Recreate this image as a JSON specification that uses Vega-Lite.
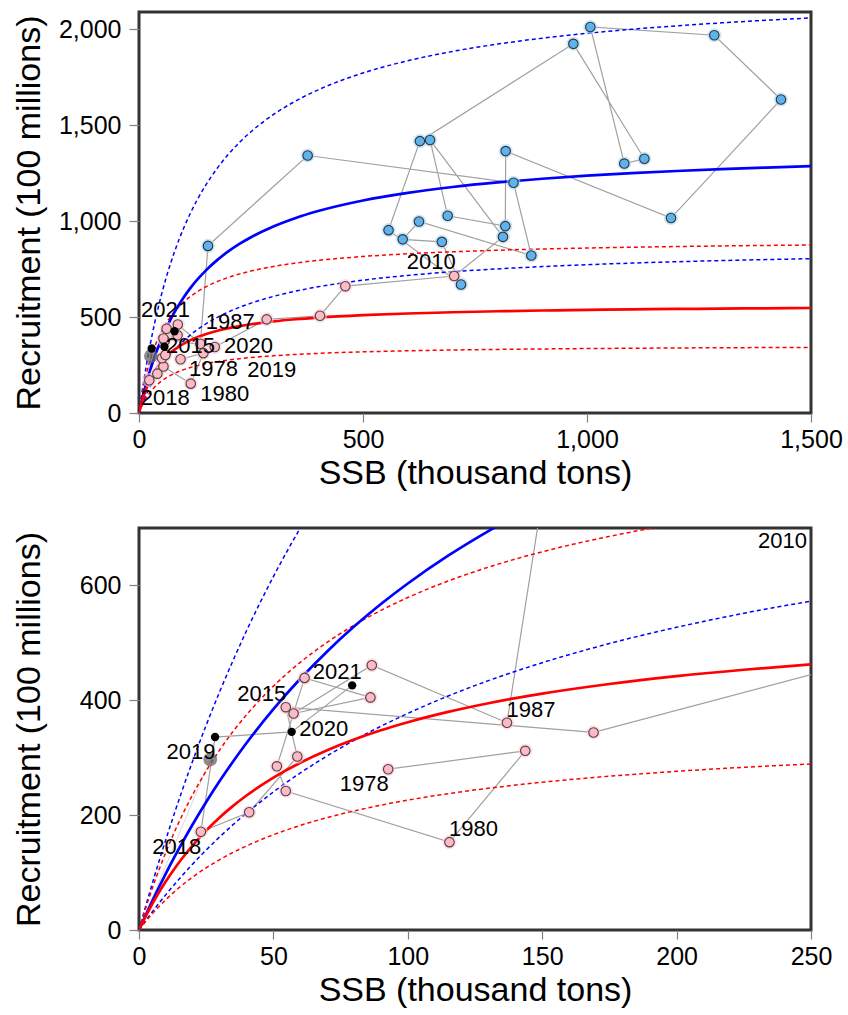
{
  "$schema": "https://vega.github.io/schema/vega-lite/v6.json",
  "padding": {"left": 10, "top": 10, "right": 5, "bottom": 5},
  "spacing": 34,
  "config": {
    "font": "Liberation Sans",
    "view": {"stroke": "#333333", "strokeWidth": 3},
    "axis": {"grid": false, "domain": false, "tickColor": "#808080", "tickWidth": 1.2, "labelFontSize": 25, "titleFontSize": 34, "titleFontWeight": "normal", "labelColor": "#000000", "titleColor": "#000000", "labelFlush": false, "labelOverlap": false},
    "axisX": {"tickSize": 9, "labelPadding": 5, "titlePadding": 4},
    "axisY": {"tickSize": 10, "labelPadding": 8, "titlePadding": 9, "minExtent": 84}
  },
  "datasets": {
    "obs": [
      {"year": 1978, "ssb": 92.7, "rec": 280, "grp": "low"},
      {"year": 1979, "ssb": 143.7, "rec": 312, "grp": "low"},
      {"year": 1980, "ssb": 115.5, "rec": 153, "grp": "low"},
      {"year": 1981, "ssb": 54.6, "rec": 242, "grp": "low"},
      {"year": 1982, "ssb": 51.3, "rec": 285, "grp": "low"},
      {"year": 1983, "ssb": 61.6, "rec": 439, "grp": "low"},
      {"year": 1984, "ssb": 86.1, "rec": 405, "grp": "low"},
      {"year": 1985, "ssb": 57.5, "rec": 377, "grp": "low"},
      {"year": 1986, "ssb": 86.6, "rec": 461, "grp": "low"},
      {"year": 1987, "ssb": 136.9, "rec": 361, "grp": "low"},
      {"year": 1988, "ssb": 154, "rec": 871, "grp": "high"},
      {"year": 1989, "ssb": 376.5, "rec": 1342, "grp": "high"},
      {"year": 1990, "ssb": 836, "rec": 1200, "grp": "high"},
      {"year": 1991, "ssb": 875.7, "rec": 821, "grp": "high"},
      {"year": 1992, "ssb": 625, "rec": 998, "grp": "high"},
      {"year": 1993, "ssb": 588.6, "rec": 905, "grp": "high"},
      {"year": 1994, "ssb": 676, "rec": 892, "grp": "high"},
      {"year": 1995, "ssb": 718.8, "rec": 670, "grp": "high"},
      {"year": 1996, "ssb": 557, "rec": 953, "grp": "high"},
      {"year": 1997, "ssb": 627, "rec": 1417, "grp": "high"},
      {"year": 1998, "ssb": 969.5, "rec": 1924, "grp": "high"},
      {"year": 1999, "ssb": 1128, "rec": 1325, "grp": "high"},
      {"year": 2000, "ssb": 1083.3, "rec": 1300, "grp": "high"},
      {"year": 2001, "ssb": 1007.4, "rec": 2012, "grp": "high"},
      {"year": 2002, "ssb": 1284.2, "rec": 1969, "grp": "high"},
      {"year": 2003, "ssb": 1433, "rec": 1634, "grp": "high"},
      {"year": 2004, "ssb": 1187.5, "rec": 1016, "grp": "high"},
      {"year": 2005, "ssb": 818.5, "rec": 1365, "grp": "high"},
      {"year": 2006, "ssb": 817.7, "rec": 974, "grp": "high"},
      {"year": 2007, "ssb": 689, "rec": 1028, "grp": "high"},
      {"year": 2008, "ssb": 649.6, "rec": 1423, "grp": "high"},
      {"year": 2009, "ssb": 812.5, "rec": 918, "grp": "high"},
      {"year": 2010, "ssb": 703.5, "rec": 714, "grp": "low"},
      {"year": 2011, "ssb": 460.5, "rec": 661, "grp": "low"},
      {"year": 2012, "ssb": 404, "rec": 507, "grp": "low"},
      {"year": 2013, "ssb": 285, "rec": 488, "grp": "low"},
      {"year": 2014, "ssb": 169.1, "rec": 344, "grp": "low"},
      {"year": 2015, "ssb": 54.6, "rec": 388, "grp": "low"},
      {"year": 2016, "ssb": 58.9, "rec": 302, "grp": "low"},
      {"year": 2017, "ssb": 41, "rec": 205, "grp": "low"},
      {"year": 2018, "ssb": 23, "rec": 171, "grp": "low"},
      {"year": 2019, "ssb": 28.3, "rec": 336, "grp": "recent"},
      {"year": 2020, "ssb": 56.8, "rec": 345, "grp": "recent"},
      {"year": 2021, "ssb": 79.3, "rec": 426, "grp": "recent"}
    ],
    "ref": [
      {"ssb": 0, "rec": 0},
      {"ssb": 26.5, "rec": 297}
    ],
    "curves": [
      {"ssb": 0, "bs": 0, "bu": 0, "bl": 0, "rs": 0, "ru": 0, "rl": 0},
      {"ssb": 1, "bs": 10.5, "bu": 16.8, "bl": 6.6, "rs": 9.8, "ru": 15.7, "rl": 6.1},
      {"ssb": 2, "bs": 20.9, "bu": 33.4, "bl": 13.1, "rs": 19.3, "ru": 30.8, "rl": 12.0},
      {"ssb": 4, "bs": 41.2, "bu": 65.9, "bl": 25.7, "rs": 37.2, "ru": 59.6, "rl": 23.3},
      {"ssb": 6, "bs": 60.9, "bu": 97.4, "bl": 38.0, "rs": 54.1, "ru": 86.6, "rl": 33.8},
      {"ssb": 8, "bs": 80.0, "bu": 128.0, "bl": 50.0, "rs": 69.9, "ru": 111.8, "rl": 43.7},
      {"ssb": 10, "bs": 98.6, "bu": 157.7, "bl": 61.6, "rs": 84.8, "ru": 135.6, "rl": 53.0},
      {"ssb": 13, "bs": 125.5, "bu": 200.8, "bl": 78.4, "rs": 105.5, "ru": 168.8, "rl": 65.9},
      {"ssb": 16, "bs": 151.4, "bu": 242.2, "bl": 94.6, "rs": 124.5, "ru": 199.2, "rl": 77.8},
      {"ssb": 20, "bs": 184.2, "bu": 294.7, "bl": 115.1, "rs": 147.5, "ru": 236.0, "rl": 92.2},
      {"ssb": 25, "bs": 222.9, "bu": 356.6, "bl": 139.3, "rs": 173.2, "ru": 277.1, "rl": 108.3},
      {"ssb": 30, "bs": 259.3, "bu": 414.9, "bl": 162.1, "rs": 195.9, "ru": 313.4, "rl": 122.4},
      {"ssb": 35, "bs": 293.4, "bu": 469.4, "bl": 183.4, "rs": 216.1, "ru": 345.8, "rl": 135.1},
      {"ssb": 40, "bs": 325.6, "bu": 521.0, "bl": 203.5, "rs": 234.2, "ru": 374.7, "rl": 146.4},
      {"ssb": 50, "bs": 384.6, "bu": 615.4, "bl": 240.4, "rs": 265.4, "ru": 424.6, "rl": 165.9},
      {"ssb": 60, "bs": 437.5, "bu": 700.0, "bl": 273.4, "rs": 291.3, "ru": 466.1, "rl": 182.1},
      {"ssb": 70, "bs": 485.1, "bu": 776.2, "bl": 303.2, "rs": 313.1, "ru": 501.0, "rl": 195.7},
      {"ssb": 80, "bs": 528.3, "bu": 845.3, "bl": 330.2, "rs": 331.7, "ru": 530.7, "rl": 207.3},
      {"ssb": 90, "bs": 567.6, "bu": 908.2, "bl": 354.8, "rs": 347.8, "ru": 556.5, "rl": 217.4},
      {"ssb": 100, "bs": 603.4, "bu": 965.4, "bl": 377.1, "rs": 361.8, "ru": 578.9, "rl": 226.1},
      {"ssb": 115, "bs": 651.8, "bu": 1042.9, "bl": 407.4, "rs": 379.8, "ru": 607.7, "rl": 237.4},
      {"ssb": 130, "bs": 694.7, "bu": 1111.5, "bl": 434.2, "rs": 394.9, "ru": 631.8, "rl": 246.8},
      {"ssb": 150, "bs": 744.7, "bu": 1191.5, "bl": 465.4, "rs": 411.6, "ru": 658.6, "rl": 257.3},
      {"ssb": 175, "bs": 798.0, "bu": 1276.8, "bl": 498.8, "rs": 428.4, "ru": 685.4, "rl": 267.8},
      {"ssb": 200, "bs": 843.4, "bu": 1349.4, "bl": 527.1, "rs": 442.0, "ru": 707.2, "rl": 276.3},
      {"ssb": 225, "bs": 882.4, "bu": 1411.8, "bl": 551.5, "rs": 453.2, "ru": 725.1, "rl": 283.3},
      {"ssb": 250, "bs": 916.2, "bu": 1465.9, "bl": 572.6, "rs": 462.5, "ru": 740.0, "rl": 289.1},
      {"ssb": 300, "bs": 972.2, "bu": 1555.5, "bl": 607.6, "rs": 477.3, "ru": 763.7, "rl": 298.3},
      {"ssb": 350, "bs": 1016.6, "bu": 1626.6, "bl": 635.4, "rs": 488.5, "ru": 781.6, "rl": 305.3},
      {"ssb": 400, "bs": 1052.6, "bu": 1684.2, "bl": 657.9, "rs": 497.2, "ru": 795.5, "rl": 310.8},
      {"ssb": 500, "bs": 1107.6, "bu": 1772.2, "bl": 692.3, "rs": 509.9, "ru": 815.8, "rl": 318.7},
      {"ssb": 600, "bs": 1147.5, "bu": 1836.0, "bl": 717.2, "rs": 518.7, "ru": 829.9, "rl": 324.2},
      {"ssb": 700, "bs": 1177.9, "bu": 1884.6, "bl": 736.2, "rs": 525.2, "ru": 840.3, "rl": 328.3},
      {"ssb": 800, "bs": 1201.7, "bu": 1922.7, "bl": 751.1, "rs": 530.2, "ru": 848.3, "rl": 331.4},
      {"ssb": 900, "bs": 1220.9, "bu": 1953.4, "bl": 763.1, "rs": 534.2, "ru": 854.7, "rl": 333.9},
      {"ssb": 1000, "bs": 1236.7, "bu": 1978.7, "bl": 772.9, "rs": 537.4, "ru": 859.8, "rl": 335.9},
      {"ssb": 1100, "bs": 1250.0, "bu": 2000.0, "bl": 781.3, "rs": 540.0, "ru": 864.0, "rl": 337.5},
      {"ssb": 1200, "bs": 1261.3, "bu": 2018.1, "bl": 788.3, "rs": 542.2, "ru": 867.5, "rl": 338.9},
      {"ssb": 1300, "bs": 1270.9, "bu": 2033.4, "bl": 794.3, "rs": 544.1, "ru": 870.6, "rl": 340.1},
      {"ssb": 1400, "bs": 1279.4, "bu": 2047.0, "bl": 799.6, "rs": 545.8, "ru": 873.3, "rl": 341.1},
      {"ssb": 1500, "bs": 1286.8, "bu": 2058.9, "bl": 804.3, "rs": 547.2, "ru": 875.5, "rl": 342.0}
    ]
  },
  "vconcat": [
    {
      "width": 672,
      "height": 401,
      "encoding": {
        "x": {"field": "ssb", "type": "quantitative", "scale": {"domain": [0, 1500], "nice": false}, "axis": {"values": [0, 500, 1000, 1500], "format": ",.0f", "title": "SSB (thousand tons)"}},
        "y": {"field": "rec", "type": "quantitative", "scale": {"domain": [0, 2090], "nice": false}, "axis": {"values": [0, 500, 1000, 1500, 2000], "format": ",.0f", "title": "Recruitment (100 millions)"}}
      },
      "layer": [
        {"data": {"name": "ref"}, "mark": {"type": "line", "color": "#cfcfcf", "strokeWidth": 0.8, "clip": true}},
        {"data": {"name": "obs"}, "mark": {"type": "line", "color": "#a0a0a0", "strokeWidth": 1.2, "clip": true}, "encoding": {"order": {"field": "year", "type": "quantitative"}}},
        {"data": {"name": "curves"}, "transform": [{"fold": ["bu", "bl"], "as": ["curve", "rec"]}], "mark": {"type": "line", "color": "#0000ff", "strokeWidth": 1.5, "strokeDash": [4, 3], "interpolate": "monotone", "clip": true}, "encoding": {"detail": {"field": "curve", "type": "nominal"}}},
        {"data": {"name": "curves"}, "transform": [{"fold": ["ru", "rl"], "as": ["curve", "rec"]}], "mark": {"type": "line", "color": "#ff0000", "strokeWidth": 1.5, "strokeDash": [4, 3], "interpolate": "monotone", "clip": true}, "encoding": {"detail": {"field": "curve", "type": "nominal"}}},
        {"data": {"name": "curves"}, "transform": [{"fold": ["bs"], "as": ["curve", "rec"]}], "mark": {"type": "line", "color": "#0000ff", "strokeWidth": 2.7, "interpolate": "monotone", "clip": true}},
        {"data": {"name": "curves"}, "transform": [{"fold": ["rs"], "as": ["curve", "rec"]}], "mark": {"type": "line", "color": "#ff0000", "strokeWidth": 2.7, "interpolate": "monotone", "clip": true}},
        {"data": {"name": "obs"}, "transform": [{"filter": "datum.grp == 'high'"}], "mark": {"type": "circle", "size": 200, "color": "#a9d7f6", "opacity": 0.6, "clip": true}},
        {"data": {"name": "obs"}, "transform": [{"filter": "datum.grp == 'low'"}], "mark": {"type": "circle", "size": 200, "color": "#ffc9d4", "opacity": 0.6, "clip": true}},
        {"data": {"name": "obs"}, "transform": [{"filter": "datum.grp == 'high'"}], "mark": {"type": "circle", "size": 90, "fill": "#5eb3ee", "fillOpacity": 1, "stroke": "#333333", "strokeWidth": 1.1, "clip": true}},
        {"data": {"name": "obs"}, "transform": [{"filter": "datum.grp == 'low'"}], "mark": {"type": "circle", "size": 90, "fill": "#ffb8c6", "fillOpacity": 1, "stroke": "#444444", "strokeWidth": 1.1, "clip": true}},
        {"data": {"name": "ref"}, "transform": [{"filter": "datum.ssb > 0"}], "mark": {"type": "circle", "size": 190, "color": "#666666", "opacity": 0.75, "clip": true}},
        {"data": {"name": "obs"}, "transform": [{"filter": "datum.grp == 'recent'"}], "mark": {"type": "circle", "size": 70, "color": "#000000", "opacity": 1, "clip": true}},
        {"data": {"name": "obs"}, "transform": [{"filter": "datum.year == 2021"}], "mark": {"type": "text", "fontSize": 22, "dx": -9, "dy": -21}, "encoding": {"text": {"field": "year", "type": "nominal"}}},
        {"data": {"name": "obs"}, "transform": [{"filter": "datum.year == 1987"}], "mark": {"type": "text", "fontSize": 22, "dx": 30, "dy": -22}, "encoding": {"text": {"field": "year", "type": "nominal"}}},
        {"data": {"name": "obs"}, "transform": [{"filter": "datum.year == 2015"}], "mark": {"type": "text", "fontSize": 22, "dx": 27, "dy": 7}, "encoding": {"text": {"field": "year", "type": "nominal"}}},
        {"data": {"name": "obs"}, "transform": [{"filter": "datum.year == 2020"}], "mark": {"type": "text", "fontSize": 22, "dx": 84, "dy": -1}, "encoding": {"text": {"field": "year", "type": "nominal"}}},
        {"data": {"name": "obs"}, "transform": [{"filter": "datum.year == 1978"}], "mark": {"type": "text", "fontSize": 22, "dx": 33, "dy": 10}, "encoding": {"text": {"field": "year", "type": "nominal"}}},
        {"data": {"name": "obs"}, "transform": [{"filter": "datum.year == 2019"}], "mark": {"type": "text", "fontSize": 22, "dx": 120, "dy": 21}, "encoding": {"text": {"field": "year", "type": "nominal"}}},
        {"data": {"name": "obs"}, "transform": [{"filter": "datum.year == 1980"}], "mark": {"type": "text", "fontSize": 22, "dx": 34, "dy": 10}, "encoding": {"text": {"field": "year", "type": "nominal"}}},
        {"data": {"name": "obs"}, "transform": [{"filter": "datum.year == 2018"}], "mark": {"type": "text", "fontSize": 22, "dx": 16, "dy": 18}, "encoding": {"text": {"field": "year", "type": "nominal"}}},
        {"data": {"name": "obs"}, "transform": [{"filter": "datum.year == 2010"}], "mark": {"type": "text", "fontSize": 22, "dx": -23, "dy": -14}, "encoding": {"text": {"field": "year", "type": "nominal"}}}
      ]
    },
    {
      "width": 672,
      "height": 402,
      "encoding": {
        "x": {"field": "ssb", "type": "quantitative", "scale": {"domain": [0, 250], "nice": false}, "axis": {"values": [0, 50, 100, 150, 200, 250], "format": ",.0f", "title": "SSB (thousand tons)"}},
        "y": {"field": "rec", "type": "quantitative", "scale": {"domain": [0, 700], "nice": false}, "axis": {"values": [0, 200, 400, 600], "format": ",.0f", "title": "Recruitment (100 millions)"}}
      },
      "layer": [
        {"data": {"name": "ref"}, "mark": {"type": "line", "color": "#cfcfcf", "strokeWidth": 0.8, "clip": true}},
        {"data": {"name": "obs"}, "mark": {"type": "line", "color": "#a0a0a0", "strokeWidth": 1.2, "clip": true}, "encoding": {"order": {"field": "year", "type": "quantitative"}}},
        {"data": {"name": "curves"}, "transform": [{"fold": ["bu", "bl"], "as": ["curve", "rec"]}], "mark": {"type": "line", "color": "#0000ff", "strokeWidth": 1.5, "strokeDash": [4, 3], "interpolate": "monotone", "clip": true}, "encoding": {"detail": {"field": "curve", "type": "nominal"}}},
        {"data": {"name": "curves"}, "transform": [{"fold": ["ru", "rl"], "as": ["curve", "rec"]}], "mark": {"type": "line", "color": "#ff0000", "strokeWidth": 1.5, "strokeDash": [4, 3], "interpolate": "monotone", "clip": true}, "encoding": {"detail": {"field": "curve", "type": "nominal"}}},
        {"data": {"name": "curves"}, "transform": [{"fold": ["bs"], "as": ["curve", "rec"]}], "mark": {"type": "line", "color": "#0000ff", "strokeWidth": 2.7, "interpolate": "monotone", "clip": true}},
        {"data": {"name": "curves"}, "transform": [{"fold": ["rs"], "as": ["curve", "rec"]}], "mark": {"type": "line", "color": "#ff0000", "strokeWidth": 2.7, "interpolate": "monotone", "clip": true}},
        {"data": {"name": "obs"}, "transform": [{"filter": "datum.grp == 'high'"}], "mark": {"type": "circle", "size": 200, "color": "#a9d7f6", "opacity": 0.6, "clip": true}},
        {"data": {"name": "obs"}, "transform": [{"filter": "datum.grp == 'low'"}], "mark": {"type": "circle", "size": 200, "color": "#ffc9d4", "opacity": 0.6, "clip": true}},
        {"data": {"name": "obs"}, "transform": [{"filter": "datum.grp == 'high'"}], "mark": {"type": "circle", "size": 90, "fill": "#5eb3ee", "fillOpacity": 1, "stroke": "#333333", "strokeWidth": 1.1, "clip": true}},
        {"data": {"name": "obs"}, "transform": [{"filter": "datum.grp == 'low'"}], "mark": {"type": "circle", "size": 90, "fill": "#ffb8c6", "fillOpacity": 1, "stroke": "#444444", "strokeWidth": 1.1, "clip": true}},
        {"data": {"name": "ref"}, "transform": [{"filter": "datum.ssb > 0"}], "mark": {"type": "circle", "size": 190, "color": "#666666", "opacity": 0.75, "clip": true}},
        {"data": {"name": "obs"}, "transform": [{"filter": "datum.grp == 'recent'"}], "mark": {"type": "circle", "size": 70, "color": "#000000", "opacity": 1, "clip": true}},
        {"data": {"name": "obs"}, "transform": [{"filter": "datum.year == 2015"}], "mark": {"type": "text", "fontSize": 22, "dx": -24, "dy": -13}, "encoding": {"text": {"field": "year", "type": "nominal"}}},
        {"data": {"name": "obs"}, "transform": [{"filter": "datum.year == 2021"}], "mark": {"type": "text", "fontSize": 22, "dx": -15, "dy": -13}, "encoding": {"text": {"field": "year", "type": "nominal"}}},
        {"data": {"name": "obs"}, "transform": [{"filter": "datum.year == 1980 || datum.year == 1987"}], "mark": {"type": "text", "fontSize": 22, "dx": 24, "dy": -13}, "encoding": {"text": {"field": "year", "type": "nominal"}}},
        {"data": {"name": "obs"}, "transform": [{"filter": "datum.year == 2019 || datum.year == 1978 || datum.year == 2018"}], "mark": {"type": "text", "fontSize": 22, "dx": -24, "dy": 15}, "encoding": {"text": {"field": "year", "type": "nominal"}}},
        {"data": {"name": "obs"}, "transform": [{"filter": "datum.year == 2020"}], "mark": {"type": "text", "fontSize": 22, "dx": 32, "dy": -3}, "encoding": {"text": {"field": "year", "type": "nominal"}}},
        {"data": {"name": "obs"}, "transform": [{"filter": "datum.year == 2010"}], "mark": {"type": "text", "fontSize": 22, "align": "right", "baseline": "top", "dx": -4, "dy": 3}, "encoding": {"text": {"field": "year", "type": "nominal"}, "x": {"datum": 250, "type": "quantitative"}, "y": {"datum": 700, "type": "quantitative"}}}
      ]
    }
  ]
}
